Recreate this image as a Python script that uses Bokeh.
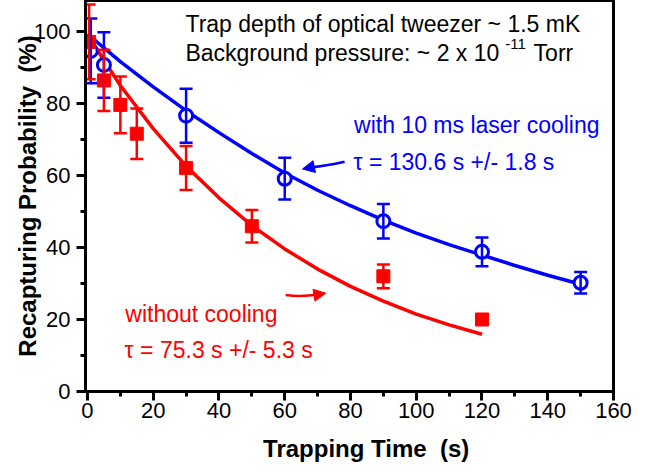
from bokeh.plotting import figure
from bokeh.models import (ColumnDataSource, Whisker, TeeHead, Arrow, NormalHead,
                          SingleIntervalTicker, Label)
from bokeh.embed import file_html
from bokeh.resources import INLINE

# ---- data ----
blue_t = [1, 5, 30, 60, 90, 120, 150]
blue_p = [94.6, 90.7, 76.6, 59.1, 47.3, 38.8, 30.2]
blue_err = [9.0, 9.1, 7.5, 5.8, 4.8, 4.0, 3.0]

red_t = [0.5, 5, 10, 15, 30, 50, 90, 120]
red_p = [97.1, 86.4, 79.6, 71.6, 62.1, 45.9, 32.0, 20.0]
red_err = [10.4, 8.5, 7.9, 7.0, 6.1, 4.5, 3.3, 1.2]

fit_t_blue = [0, 10, 20, 30, 40, 50, 60, 70, 80, 90, 100, 110, 120, 130, 140, 150]
fit_blue = [99.3, 91.6, 84.6, 78.0, 71.9, 66.1, 60.7, 55.9, 51.6, 47.6, 44.0, 40.8, 37.9, 35.0, 32.3, 29.8]

fit_t_red = [0, 10, 20, 30, 40, 50, 60, 70, 80, 90, 100, 110, 120]
fit_red = [99.0, 85.0, 73.0, 62.6, 53.8, 46.1, 39.6, 34.0, 29.2, 25.1, 21.5, 18.5, 15.9]

NB = "\u00a0"
x_label = NB * 5 + "Trapping Time " + NB + "(s)"
y_label = "Recapturing Probability " + NB + "(%)"

BLUE = "#0000ff"
RED = "#ff0000"
FONT = "Liberation Sans"

p = figure(width=645, height=465, x_range=(-0.6, 160), y_range=(0, 108.6),
           output_backend="svg", toolbar_location=None,
           min_border_left=85, min_border_right=32, min_border_top=0, min_border_bottom=74)
p.xgrid.visible = False
p.ygrid.visible = False
p.outline_line_color = "black"
p.outline_line_width = 3
p.background_fill_color = "white"
p.border_fill_color = "white"

p.xaxis.ticker = SingleIntervalTicker(interval=20, num_minor_ticks=2)
p.yaxis.ticker = SingleIntervalTicker(interval=20, num_minor_ticks=2)
for ax in (p.xaxis[0], p.yaxis[0]):
    ax.axis_line_width = 3
    ax.axis_line_color = "black"
    ax.major_tick_line_width = 3
    ax.minor_tick_line_width = 3
    ax.major_tick_line_color = "black"
    ax.minor_tick_line_color = "black"
    ax.major_tick_out = 9
    ax.major_tick_in = 0
    ax.minor_tick_out = 5
    ax.minor_tick_in = 0
    ax.major_label_text_font = FONT
    ax.major_label_text_font_size = "22px"
    ax.major_label_text_color = "black"
    ax.axis_label_text_font = FONT
    ax.axis_label_text_font_size = "24px"
    ax.axis_label_text_font_style = "bold"
    ax.axis_label_text_color = "black"
p.xaxis.axis_label = x_label
p.yaxis.axis_label = y_label
p.xaxis.major_label_standoff = 2
p.xaxis.axis_label_standoff = 14
p.yaxis.major_label_standoff = 6
p.yaxis.axis_label_standoff = -10

# fit curves
p.line(fit_t_blue, fit_blue, line_color=BLUE, line_width=3.5)
p.line(fit_t_red, fit_red, line_color=RED, line_width=3.5)

# error bars
bsrc = ColumnDataSource(dict(t=blue_t, p=blue_p,
                             hi=[v + e for v, e in zip(blue_p, blue_err)],
                             lo=[v - e for v, e in zip(blue_p, blue_err)]))
rsrc = ColumnDataSource(dict(t=red_t, p=red_p,
                             hi=[v + e for v, e in zip(red_p, red_err)],
                             lo=[v - e for v, e in zip(red_p, red_err)]))
for src, col in ((bsrc, BLUE), (rsrc, RED)):
    w = Whisker(source=src, base="t", upper="hi", lower="lo", line_color=col, line_width=2.5,
                upper_head=TeeHead(size=13, line_color=col, line_width=2.5),
                lower_head=TeeHead(size=13, line_color=col, line_width=2.5))
    w.level = "glyph"
    p.add_layout(w)

p.scatter("t", "p", source=bsrc, marker="circle", size=13, fill_color="white",
          line_color=BLUE, line_width=3)
p.scatter("t", "p", source=rsrc, marker="square", size=13, fill_color=RED,
          line_color=RED, line_width=1)

# arrows
p.quadratic(x0=[78.2], y0=[63.8], x1=[67.5], y1=[62.2], cx=[72.5], cy=[62.6],
            line_color=BLUE, line_width=2.5)
p.add_layout(Arrow(end=NormalHead(size=12, fill_color=BLUE, line_color=BLUE, line_width=1),
                   x_start=67.8, y_start=62.25, x_end=65.4, y_end=61.8,
                   line_color=BLUE, line_width=2.5))
p.quadratic(x0=[60.3], y0=[26.8], x1=[70.5], y1=[27.0], cx=[65.0], cy=[26.2],
            line_color=RED, line_width=2.5)
p.add_layout(Arrow(end=NormalHead(size=12, fill_color=RED, line_color=RED, line_width=1),
                   x_start=70.2, y_start=26.95, x_end=72.5, y_end=27.3,
                   line_color=RED, line_width=2.5))

# texts
def lab(x, y, t, col="black", size="23px"):
    p.add_layout(Label(x=x, y=y, text=t, text_font=FONT, text_font_size=size,
                       text_color=col, text_baseline="middle", text_align="left"))

lab(29.8, 102.2, "Trap depth of optical tweezer ~ 1.5 mK")
lab(29.8, 93.9, "Background pressure: ~ 2 x 10")
lab(127.1, 96.6, "-11", size="15px")
lab(135.7, 93.9, "Torr")
lab(81.1, 74.0, "with 10 ms laser cooling", BLUE)
lab(80.9, 63.7, "τ = 130.6 s +/- 1.8 s", BLUE)
lab(11.5, 21.4, "without cooling", RED)
lab(11.3, 11.6, "τ = 75.3 s +/- 5.3 s", RED)

open("out.html", "w").write(file_html(p, INLINE))
